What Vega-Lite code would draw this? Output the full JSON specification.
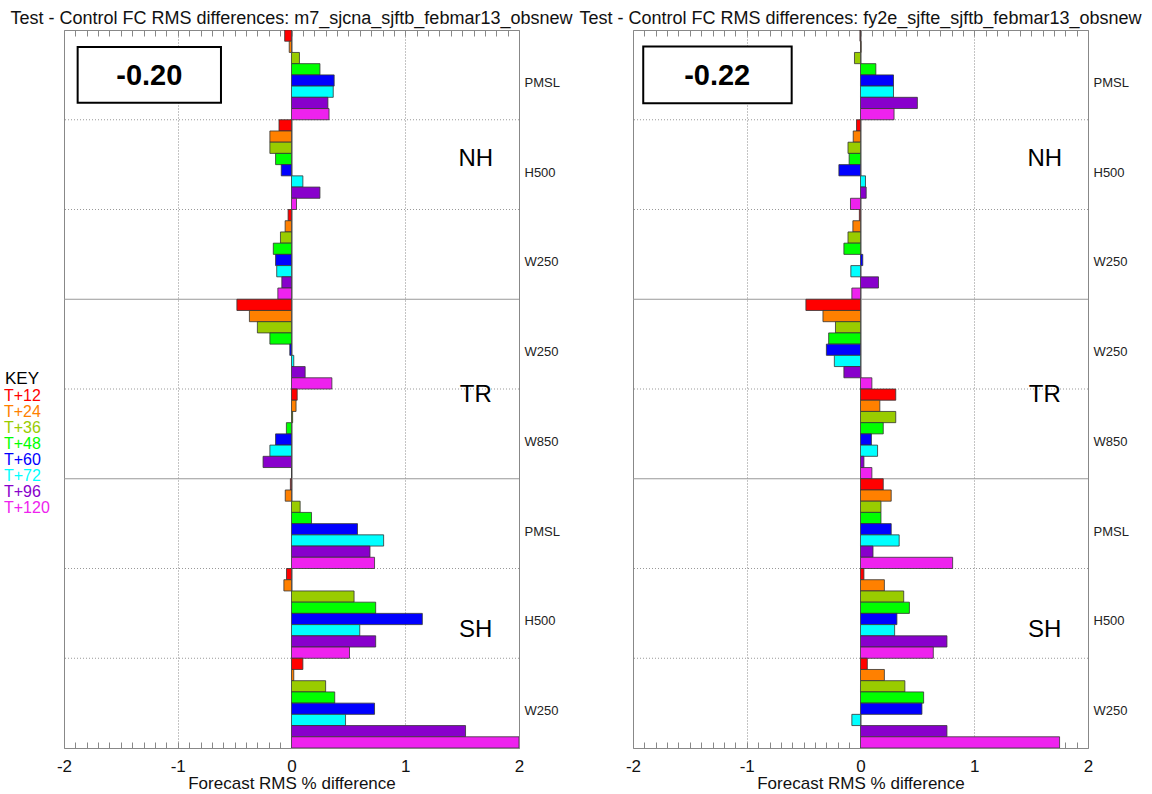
{
"$schema": "https://vega.github.io/schema/vega-lite/v6.json",
"padding": {"left": 5, "top": 9, "right": 5, "bottom": 0},
"background": "white",
"bounds": "flush",
"spacing": 114,
"resolve": {"scale": {"yOffset": "independent"}},
"config": {"font": "Liberation Sans", "view": {"stroke": "#888", "strokeWidth": 1}},
"datasets": {
"left": [
{"g":"NH PMSL","t":"T+12","v":-0.06},{"g":"NH PMSL","t":"T+24","v":-0.02},{"g":"NH PMSL","t":"T+36","v":0.07},{"g":"NH PMSL","t":"T+48","v":0.25},{"g":"NH PMSL","t":"T+60","v":0.375},{"g":"NH PMSL","t":"T+72","v":0.367},{"g":"NH PMSL","t":"T+96","v":0.32},{"g":"NH PMSL","t":"T+120","v":0.33},
{"g":"NH H500","t":"T+12","v":-0.11},{"g":"NH H500","t":"T+24","v":-0.19},{"g":"NH H500","t":"T+36","v":-0.19},{"g":"NH H500","t":"T+48","v":-0.14},{"g":"NH H500","t":"T+60","v":-0.09},{"g":"NH H500","t":"T+72","v":0.10},{"g":"NH H500","t":"T+96","v":0.25},{"g":"NH H500","t":"T+120","v":0.044},
{"g":"NH W250","t":"T+12","v":-0.03},{"g":"NH W250","t":"T+24","v":-0.056},{"g":"NH W250","t":"T+36","v":-0.097},{"g":"NH W250","t":"T+48","v":-0.16},{"g":"NH W250","t":"T+60","v":-0.14},{"g":"NH W250","t":"T+72","v":-0.13},{"g":"NH W250","t":"T+96","v":-0.085},{"g":"NH W250","t":"T+120","v":-0.12},
{"g":"TR W250","t":"T+12","v":-0.48},{"g":"TR W250","t":"T+24","v":-0.37},{"g":"TR W250","t":"T+36","v":-0.30},{"g":"TR W250","t":"T+48","v":-0.19},{"g":"TR W250","t":"T+60","v":-0.015},{"g":"TR W250","t":"T+72","v":0.02},{"g":"TR W250","t":"T+96","v":0.12},{"g":"TR W250","t":"T+120","v":0.355},
{"g":"TR W850","t":"T+12","v":0.05},{"g":"TR W850","t":"T+24","v":0.04},{"g":"TR W850","t":"T+36","v":0.01},{"g":"TR W850","t":"T+48","v":-0.045},{"g":"TR W850","t":"T+60","v":-0.14},{"g":"TR W850","t":"T+72","v":-0.19},{"g":"TR W850","t":"T+96","v":-0.25},{"g":"TR W850","t":"T+120","v":0.0},
{"g":"SH PMSL","t":"T+12","v":-0.01},{"g":"SH PMSL","t":"T+24","v":-0.055},{"g":"SH PMSL","t":"T+36","v":0.076},{"g":"SH PMSL","t":"T+48","v":0.176},{"g":"SH PMSL","t":"T+60","v":0.58},{"g":"SH PMSL","t":"T+72","v":0.81},{"g":"SH PMSL","t":"T+96","v":0.69},{"g":"SH PMSL","t":"T+120","v":0.73},
{"g":"SH H500","t":"T+12","v":-0.044},{"g":"SH H500","t":"T+24","v":-0.067},{"g":"SH H500","t":"T+36","v":0.55},{"g":"SH H500","t":"T+48","v":0.74},{"g":"SH H500","t":"T+60","v":1.15},{"g":"SH H500","t":"T+72","v":0.60},{"g":"SH H500","t":"T+96","v":0.74},{"g":"SH H500","t":"T+120","v":0.51},
{"g":"SH W250","t":"T+12","v":0.10},{"g":"SH W250","t":"T+24","v":0.02},{"g":"SH W250","t":"T+36","v":0.30},{"g":"SH W250","t":"T+48","v":0.38},{"g":"SH W250","t":"T+60","v":0.73},{"g":"SH W250","t":"T+72","v":0.475},{"g":"SH W250","t":"T+96","v":1.53},{"g":"SH W250","t":"T+120","v":2.0}
],
"right": [
{"g":"NH PMSL","t":"T+12","v":-0.005},{"g":"NH PMSL","t":"T+24","v":0.005},{"g":"NH PMSL","t":"T+36","v":-0.053},{"g":"NH PMSL","t":"T+48","v":0.135},{"g":"NH PMSL","t":"T+60","v":0.29},{"g":"NH PMSL","t":"T+72","v":0.29},{"g":"NH PMSL","t":"T+96","v":0.50},{"g":"NH PMSL","t":"T+120","v":0.295},
{"g":"NH H500","t":"T+12","v":-0.035},{"g":"NH H500","t":"T+24","v":-0.064},{"g":"NH H500","t":"T+36","v":-0.11},{"g":"NH H500","t":"T+48","v":-0.10},{"g":"NH H500","t":"T+60","v":-0.19},{"g":"NH H500","t":"T+72","v":0.044},{"g":"NH H500","t":"T+96","v":0.05},{"g":"NH H500","t":"T+120","v":-0.088},
{"g":"NH W250","t":"T+12","v":-0.01},{"g":"NH W250","t":"T+24","v":-0.067},{"g":"NH W250","t":"T+36","v":-0.11},{"g":"NH W250","t":"T+48","v":-0.146},{"g":"NH W250","t":"T+60","v":0.02},{"g":"NH W250","t":"T+72","v":-0.085},{"g":"NH W250","t":"T+96","v":0.158},{"g":"NH W250","t":"T+120","v":-0.076},
{"g":"TR W250","t":"T+12","v":-0.48},{"g":"TR W250","t":"T+24","v":-0.33},{"g":"TR W250","t":"T+36","v":-0.22},{"g":"TR W250","t":"T+48","v":-0.28},{"g":"TR W250","t":"T+60","v":-0.30},{"g":"TR W250","t":"T+72","v":-0.23},{"g":"TR W250","t":"T+96","v":-0.146},{"g":"TR W250","t":"T+120","v":0.10},
{"g":"TR W850","t":"T+12","v":0.31},{"g":"TR W850","t":"T+24","v":0.17},{"g":"TR W850","t":"T+36","v":0.31},{"g":"TR W850","t":"T+48","v":0.20},{"g":"TR W850","t":"T+60","v":0.096},{"g":"TR W850","t":"T+72","v":0.15},{"g":"TR W850","t":"T+96","v":0.03},{"g":"TR W850","t":"T+120","v":0.10},
{"g":"SH PMSL","t":"T+12","v":0.20},{"g":"SH PMSL","t":"T+24","v":0.27},{"g":"SH PMSL","t":"T+36","v":0.18},{"g":"SH PMSL","t":"T+48","v":0.18},{"g":"SH PMSL","t":"T+60","v":0.27},{"g":"SH PMSL","t":"T+72","v":0.34},{"g":"SH PMSL","t":"T+96","v":0.11},{"g":"SH PMSL","t":"T+120","v":0.81},
{"g":"SH H500","t":"T+12","v":0.03},{"g":"SH H500","t":"T+24","v":0.21},{"g":"SH H500","t":"T+36","v":0.38},{"g":"SH H500","t":"T+48","v":0.43},{"g":"SH H500","t":"T+60","v":0.32},{"g":"SH H500","t":"T+72","v":0.30},{"g":"SH H500","t":"T+96","v":0.76},{"g":"SH H500","t":"T+120","v":0.64},
{"g":"SH W250","t":"T+12","v":0.06},{"g":"SH W250","t":"T+24","v":0.21},{"g":"SH W250","t":"T+36","v":0.39},{"g":"SH W250","t":"T+48","v":0.555},{"g":"SH W250","t":"T+60","v":0.54},{"g":"SH W250","t":"T+72","v":-0.076},{"g":"SH W250","t":"T+96","v":0.76},{"g":"SH W250","t":"T+120","v":1.75}
],
"hlines": [
{"g":"NH H500","k":"dot"},{"g":"NH W250","k":"dot"},{"g":"TR W250","k":"solid"},{"g":"TR W850","k":"dot"},{"g":"SH PMSL","k":"solid"},{"g":"SH H500","k":"dot"},{"g":"SH W250","k":"dot"}
],
"regions": [
{"g":"NH H500","t":"T+48","x":1.62,"s":"NH"},{"g":"TR W850","t":"T+12","x":1.62,"s":"TR"},{"g":"SH H500","t":"T+72","x":1.62,"s":"SH"}
]
},
"hconcat": [
{
"width": 455, "height": 718,
"title": {"text": "Test - Control FC RMS differences: m7_sjcna_sjftb_febmar13_obsnew", "fontSize": 18, "fontWeight": "normal", "anchor": "middle", "frame": "group", "baseline": "alphabetic", "offset": -12, "color": "#111"},
"layer": [
{"data": {"name": "hlines"}, "mark": {"type": "rule", "color": "#999", "strokeWidth": 1},
 "encoding": {"y": {"field": "g", "type": "nominal", "bandPosition": 0, "scale": {"domain": ["NH PMSL","NH H500","NH W250","TR W250","TR W850","SH PMSL","SH H500","SH W250"], "paddingInner": 0, "paddingOuter": 0}},
  "strokeDash": {"field": "k", "type": "nominal", "scale": {"domain": ["dot","solid"], "range": [[1,2],[1,0]]}, "legend": null}}},
{"data": {"name": "left"}, "mark": {"type": "bar", "stroke": "#333", "strokeWidth": 0.8, "clip": true},
 "encoding": {
  "y": {"field": "g", "type": "nominal", "scale": {"domain": ["NH PMSL","NH H500","NH W250","TR W250","TR W850","SH PMSL","SH H500","SH W250"], "paddingInner": 0, "paddingOuter": 0},
   "axis": {"orient": "right", "ticks": false, "domain": false, "grid": false, "title": null, "labelPadding": 5, "labelAlign": "left", "labelFontSize": 13, "labelColor": "#222", "labelOffset": 8, "labelLimit": 0, "labelBound": false, "labelExpr": "slice(datum.label, 3)"}},
  "yOffset": {"field": "t", "type": "nominal", "scale": {"domain": ["T+12","T+24","T+36","T+48","T+60","T+72","T+96","T+120"], "paddingInner": 0, "paddingOuter": 0}},
  "x": {"field": "v", "type": "quantitative", "scale": {"domain": [-2, 2], "nice": false},
   "axis": {"orient": "bottom", "values": [-2,-1.9,-1.8,-1.7,-1.6,-1.5,-1.4,-1.3,-1.2,-1.1,-1,-0.9,-0.8,-0.7,-0.6,-0.5,-0.4,-0.3,-0.2,-0.1,0,0.1,0.2,0.3,0.4,0.5,0.6,0.7,0.8,0.9,1,1.1,1.2,1.3,1.4,1.5,1.6,1.7,1.8,1.9,2],
    "labelExpr": "abs(datum.value - round(datum.value)) < 0.001 ? '' + round(datum.value) : ''", "labelOverlap": false, "labelFlush": false,
    "tickSize": -6, "tickColor": "#888", "labelPadding": 16, "labelFontSize": 17, "labelColor": "#111", "domain": false,
    "grid": true, "gridColor": "#888",
    "gridOpacity": {"condition": {"test": "abs(datum.value) < 1.05 && abs(datum.value - round(datum.value)) < 0.001", "value": 1}, "value": 0},
    "gridDash": {"condition": {"test": "abs(datum.value) < 0.001", "value": [1, 0]}, "value": [1, 2]},
    "title": "Forecast RMS % difference", "titleFontSize": 17, "titleFontWeight": "normal", "titleColor": "#111", "titlePadding": 1}},
  "color": {"field": "t", "type": "nominal", "scale": {"domain": ["T+12","T+24","T+36","T+48","T+60","T+72","T+96","T+120"], "range": ["#FF0000","#FF8000","#99CC00","#00FF00","#0000FF","#00FFFF","#8800CC","#EE22EE"]},
   "legend": {"orient": "none", "legendX": -59, "legendY": 341, "title": "KEY", "titleFontSize": 17, "titleFontWeight": "normal", "titleColor": "black", "titlePadding": 0, "labelFontSize": 16, "symbolSize": 0, "symbolOpacity": 0, "symbolStrokeWidth": 0, "labelOffset": -17, "rowPadding": 0, "padding": 0,
    "labelColor": {"expr": "scale('color', datum.label)"}}}
 }},
{"data": {"values": [{"g": "NH PMSL", "x1": -1.88, "x2": -0.62}]}, "mark": {"type": "bar", "fill": "white", "stroke": "black", "strokeWidth": 2, "height": {"band": 0.62}},
 "encoding": {"y": {"field": "g", "type": "nominal"}, "x": {"field": "x1", "type": "quantitative", "axis": null}, "x2": {"field": "x2"}}},
{"data": {"values": [{"g": "NH PMSL", "xc": -1.25, "s": "-0.20"}]}, "mark": {"type": "text", "fontSize": 29, "fontWeight": "bold", "baseline": "middle", "dy": 1, "color": "black"},
 "encoding": {"y": {"field": "g", "type": "nominal"}, "x": {"field": "xc", "type": "quantitative", "axis": null}, "text": {"field": "s"}}},
{"data": {"name": "regions"}, "mark": {"type": "text", "fontSize": 24, "baseline": "middle", "color": "black"},
 "encoding": {"y": {"field": "g", "type": "nominal"}, "yOffset": {"field": "t", "type": "nominal"},
  "x": {"field": "x", "type": "quantitative", "axis": {"orient": "top", "values": [-2,-1.9,-1.8,-1.7,-1.6,-1.5,-1.4,-1.3,-1.2,-1.1,-1,-0.9,-0.8,-0.7,-0.6,-0.5,-0.4,-0.3,-0.2,-0.1,0,0.1,0.2,0.3,0.4,0.5,0.6,0.7,0.8,0.9,1,1.1,1.2,1.3,1.4,1.5,1.6,1.7,1.8,1.9,2], "labels": false, "tickSize": -6, "tickColor": "#888", "domain": false, "grid": false, "title": null}},
  "text": {"field": "s"}}}
]
},
{
"width": 455, "height": 718,
"title": {"text": "Test - Control FC RMS differences: fy2e_sjfte_sjftb_febmar13_obsnew", "fontSize": 18, "fontWeight": "normal", "anchor": "middle", "frame": "group", "baseline": "alphabetic", "offset": -12, "color": "#111"},
"layer": [
{"data": {"name": "hlines"}, "mark": {"type": "rule", "color": "#999", "strokeWidth": 1},
 "encoding": {"y": {"field": "g", "type": "nominal", "bandPosition": 0, "scale": {"domain": ["NH PMSL","NH H500","NH W250","TR W250","TR W850","SH PMSL","SH H500","SH W250"], "paddingInner": 0, "paddingOuter": 0}},
  "strokeDash": {"field": "k", "type": "nominal", "scale": {"domain": ["dot","solid"], "range": [[1,2],[1,0]]}, "legend": null}}},
{"data": {"name": "right"}, "mark": {"type": "bar", "stroke": "#333", "strokeWidth": 0.8, "clip": true},
 "encoding": {
  "y": {"field": "g", "type": "nominal", "scale": {"domain": ["NH PMSL","NH H500","NH W250","TR W250","TR W850","SH PMSL","SH H500","SH W250"], "paddingInner": 0, "paddingOuter": 0},
   "axis": {"orient": "right", "ticks": false, "domain": false, "grid": false, "title": null, "labelPadding": 5, "labelAlign": "left", "labelFontSize": 13, "labelColor": "#222", "labelOffset": 8, "labelLimit": 0, "labelBound": false, "labelExpr": "slice(datum.label, 3)"}},
  "yOffset": {"field": "t", "type": "nominal", "scale": {"domain": ["T+12","T+24","T+36","T+48","T+60","T+72","T+96","T+120"], "paddingInner": 0, "paddingOuter": 0}},
  "x": {"field": "v", "type": "quantitative", "scale": {"domain": [-2, 2], "nice": false},
   "axis": {"orient": "bottom", "values": [-2,-1.9,-1.8,-1.7,-1.6,-1.5,-1.4,-1.3,-1.2,-1.1,-1,-0.9,-0.8,-0.7,-0.6,-0.5,-0.4,-0.3,-0.2,-0.1,0,0.1,0.2,0.3,0.4,0.5,0.6,0.7,0.8,0.9,1,1.1,1.2,1.3,1.4,1.5,1.6,1.7,1.8,1.9,2],
    "labelExpr": "abs(datum.value - round(datum.value)) < 0.001 ? '' + round(datum.value) : ''", "labelOverlap": false, "labelFlush": false,
    "tickSize": -6, "tickColor": "#888", "labelPadding": 16, "labelFontSize": 17, "labelColor": "#111", "domain": false,
    "grid": true, "gridColor": "#888",
    "gridOpacity": {"condition": {"test": "abs(datum.value) < 1.05 && abs(datum.value - round(datum.value)) < 0.001", "value": 1}, "value": 0},
    "gridDash": {"condition": {"test": "abs(datum.value) < 0.001", "value": [1, 0]}, "value": [1, 2]},
    "title": "Forecast RMS % difference", "titleFontSize": 17, "titleFontWeight": "normal", "titleColor": "#111", "titlePadding": 1}},
  "color": {"field": "t", "type": "nominal", "scale": {"domain": ["T+12","T+24","T+36","T+48","T+60","T+72","T+96","T+120"], "range": ["#FF0000","#FF8000","#99CC00","#00FF00","#0000FF","#00FFFF","#8800CC","#EE22EE"]}, "legend": null}
 }},
{"data": {"values": [{"g": "NH PMSL", "x1": -1.91, "x2": -0.605}]}, "mark": {"type": "bar", "fill": "white", "stroke": "black", "strokeWidth": 2, "height": {"band": 0.63}},
 "encoding": {"y": {"field": "g", "type": "nominal"}, "x": {"field": "x1", "type": "quantitative", "axis": null}, "x2": {"field": "x2"}}},
{"data": {"values": [{"g": "NH PMSL", "xc": -1.26, "s": "-0.22"}]}, "mark": {"type": "text", "fontSize": 29, "fontWeight": "bold", "baseline": "middle", "dy": 1, "color": "black"},
 "encoding": {"y": {"field": "g", "type": "nominal"}, "x": {"field": "xc", "type": "quantitative", "axis": null}, "text": {"field": "s"}}},
{"data": {"name": "regions"}, "mark": {"type": "text", "fontSize": 24, "baseline": "middle", "color": "black"},
 "encoding": {"y": {"field": "g", "type": "nominal"}, "yOffset": {"field": "t", "type": "nominal"},
  "x": {"field": "x", "type": "quantitative", "axis": {"orient": "top", "values": [-2,-1.9,-1.8,-1.7,-1.6,-1.5,-1.4,-1.3,-1.2,-1.1,-1,-0.9,-0.8,-0.7,-0.6,-0.5,-0.4,-0.3,-0.2,-0.1,0,0.1,0.2,0.3,0.4,0.5,0.6,0.7,0.8,0.9,1,1.1,1.2,1.3,1.4,1.5,1.6,1.7,1.8,1.9,2], "labels": false, "tickSize": -6, "tickColor": "#888", "domain": false, "grid": false, "title": null}},
  "text": {"field": "s"}}}
]
}
]
}
